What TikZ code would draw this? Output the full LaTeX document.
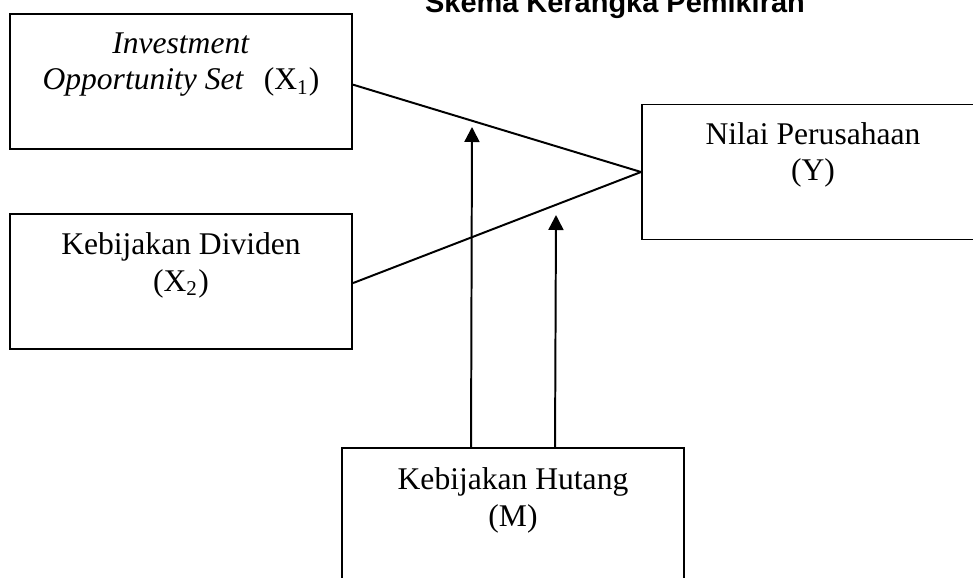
\documentclass[tikz,border=0pt]{standalone}
\usepackage{fontspec}
\setmainfont{Liberation Serif}
\newfontfamily\titlefont{Liberation Sans}
\usetikzlibrary{arrows.meta,calc}
\begin{document}
\begin{tikzpicture}[x=0.38pt,y=-0.38pt,
  box/.style={draw,line width=0.75pt,rectangle,minimum width=129.96pt,minimum height=51.3pt,inner sep=0pt},
  txt/.style={align=center,anchor=base,inner sep=0pt,font=\fontsize{12pt}{14pt}\selectfont},
  link/.style={line width=0.75pt},
  arr/.style={line width=0.75pt,-{Triangle[length=5.7pt,width=5.7pt]}}]
\clip (0,0) rectangle (973,578);
\useasboundingbox (0,0) rectangle (973,578);
\node[anchor=base,inner sep=0pt,font=\titlefont\bfseries\fontsize{11pt}{13pt}\selectfont] (title) at (615,13) {Skema Kerangka Pemikiran};
\node[box] (x1) at (181,81.5) {};
\node[box] (x2) at (181,281.5) {};
\node[box] (y) at (813,172) {};
\node[box] (m) at (513,515.5) {};
\node[txt] (t1) at (181,90) {\textit{Investment}\\\textit{Opportunity Set}\hspace{7.5pt}(X\textsubscript{1})};
\node[txt] (t2) at (181,291) {Kebijakan Dividen\\(X\textsubscript{2})};
\node[txt] (ty) at (813,181) {Nilai Perusahaan\\(Y)};
\node[txt] (tm) at (513,526) {Kebijakan Hutang\\(M)};
\draw[link] ([yshift=-1.2pt]x1.east) -- (y.west);
\draw[link] ([yshift=-0.6pt]x2.east) -- (y.west);
\coordinate (a1) at (472,127);
\coordinate (a2) at (556,215);
\draw[arr] ($(m.north west)+(130,0)$) -- (a1);
\draw[arr] ($(m.north west)+(214,0)$) -- (a2);
\end{tikzpicture}
\end{document}
